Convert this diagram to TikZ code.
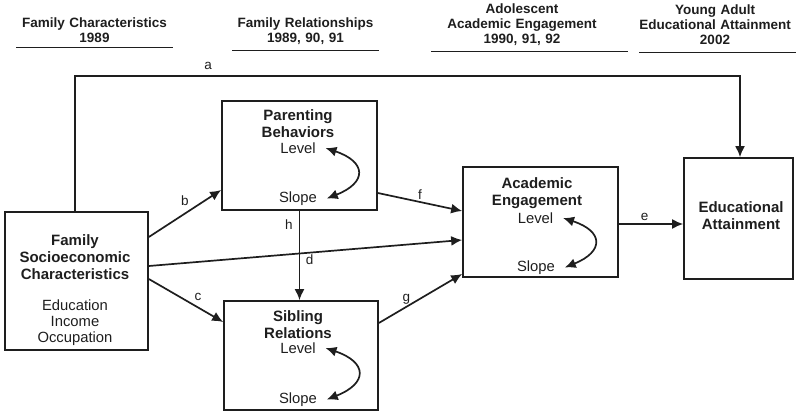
\documentclass[tikz,border=0pt]{standalone}
\usepackage{fontspec}
\setmainfont{Liberation Sans}
\usetikzlibrary{arrows.meta,positioning}
\definecolor{ink}{RGB}{30,30,30}
\begin{document}
\begin{tikzpicture}[x=1pt, y=-1pt, ink, line width=1.7pt,
  box/.style={draw, inner sep=0},
  head/.style={font=\fontsize{13.5}{15}\selectfont\bfseries, align=center, text width=#1, inner xsep=0, inner ysep=0, anchor=south},
  title/.style={font=\fontsize{15}{16.8}\selectfont\bfseries, align=center, inner sep=0},
  plain/.style={font=\fontsize{14.8}{16}\selectfont, align=center, inner sep=0},
  lvl/.style={font=\fontsize{14.8}{16}\selectfont, inner xsep=9pt, inner ysep=0},
  lab/.style={font=\fontsize{13.5}{15}\selectfont, inner sep=0},
  arr/.style={-{Latex[length=11pt,width=10pt]}},
  dbl/.style={{Latex[length=11pt,width=10pt]}-{Latex[length=11pt,width=10pt]}, bend left=70, looseness=2.2},
  rule/.style={line width=0.8pt}]
  \useasboundingbox (0,0) rectangle (800,414);

  \node[head=155pt, minimum height=31pt] (H1) at (94.5,47) {Family Characteristics\\1989};
  \node[head=145pt, minimum height=36pt] (H2) at (305.5,50) {Family Relationships\\1989, 90, 91};
  \node[head=180pt, minimum height=50pt] (H3) at (522,51) {Adolescent\\Academic Engagement\\1990, 91, 92};
  \node[head=160pt, minimum height=52pt] (H4) at (715,52) {Young Adult\\Educational Attainment\\2002};
  \draw[rule] (H1.south west) -- (H1.south east);
  \draw[rule] (H2.south west) -- (H2.south east);
  \draw[rule] (H3.south west) -- ([xshift=15pt]H3.south east);
  \draw[rule] ([xshift=5pt]H4.south west) -- (H4.south east);

  \node[box, minimum width=143pt, minimum height=138pt] (SES) at (76.5,281) {};
  \node[title] (SEStitle) at (75,257) {Family\\Socioeconomic\\Characteristics};
  \node[plain] (SESlist) at (75,323) {Education\\Income\\Occupation};

  \node[box, minimum width=155pt, minimum height=109pt] (PB) at (299.5,155.5) {};
  \node[title] (PBtitle) at (298,124) {Parenting\\Behaviors};
  \node[lvl] (PBlevel) at (298,148) {Level};
  \node[lvl] (PBslope) at (298,198.5) {Slope};

  \node[box, minimum width=154pt, minimum height=109pt] (SR) at (301,355.5) {};
  \node[title] (SRtitle) at (298,325) {Sibling\\Relations};
  \node[lvl] (SRlevel) at (298,348) {Level};
  \node[lvl] (SRslope) at (298,399.5) {Slope};

  \node[box, minimum width=155pt, minimum height=110pt] (AE) at (540.5,222) {};
  \node[title] (AEtitle) at (537,193) {Academic\\Engagement};
  \node[lvl] (AElevel) at (535.5,218) {Level};
  \node[lvl] (AEslope) at (536,267.5) {Slope};

  \node[box, minimum width=109pt, minimum height=121pt] (EA) at (738.5,218.5) {};
  \node[title] (EAtitle) at (741,215.5) {Educational\\Attainment};

  \draw[dbl] (PBlevel.east) to (PBslope.east);
  \draw[dbl] (SRlevel.east) to (SRslope.east);
  \draw[dbl] (AElevel.east) to (AEslope.east);

  \draw[arr] ([xshift=-1.5pt]SES.north) -- ++(0,-135) -| node[lab, pos=0.1, above=6pt] {a} ([xshift=1.5pt]EA.north);
  \draw[arr] ([yshift=44pt]SES.east) -- node[lab, midway, above=7pt] {b} ([yshift=-34.5pt]PB.west);
  \draw[arr] ([yshift=2pt]SES.east) -- node[lab, midway, xshift=12pt, yshift=4pt] {c} ([yshift=33.5pt]SR.west);
  \draw[arr] ([yshift=15pt]SES.east) -- node[lab, midway, below=1pt, xshift=4pt] {d} ([yshift=-18pt]AE.west);
  \draw[arr] ([yshift=-37.5pt]PB.east) -- node[lab, midway, above=2pt] {f} ([yshift=11pt]AE.west);
  \draw[arr] ([yshift=32.5pt]SR.east) -- node[lab, pos=0.33, above=2pt] {g} ([yshift=-52pt]AE.west);
  \draw[arr] (PB.south) -- node[lab, pos=0.15, left=6pt] {h} (PB.south |- SR.north);
  \draw[arr] ([yshift=-2pt]AE.east) -- node[lab, pos=0.4, above=3pt] {e} ([yshift=-2pt]AE.east -| EA.west);
\end{tikzpicture}
\end{document}
